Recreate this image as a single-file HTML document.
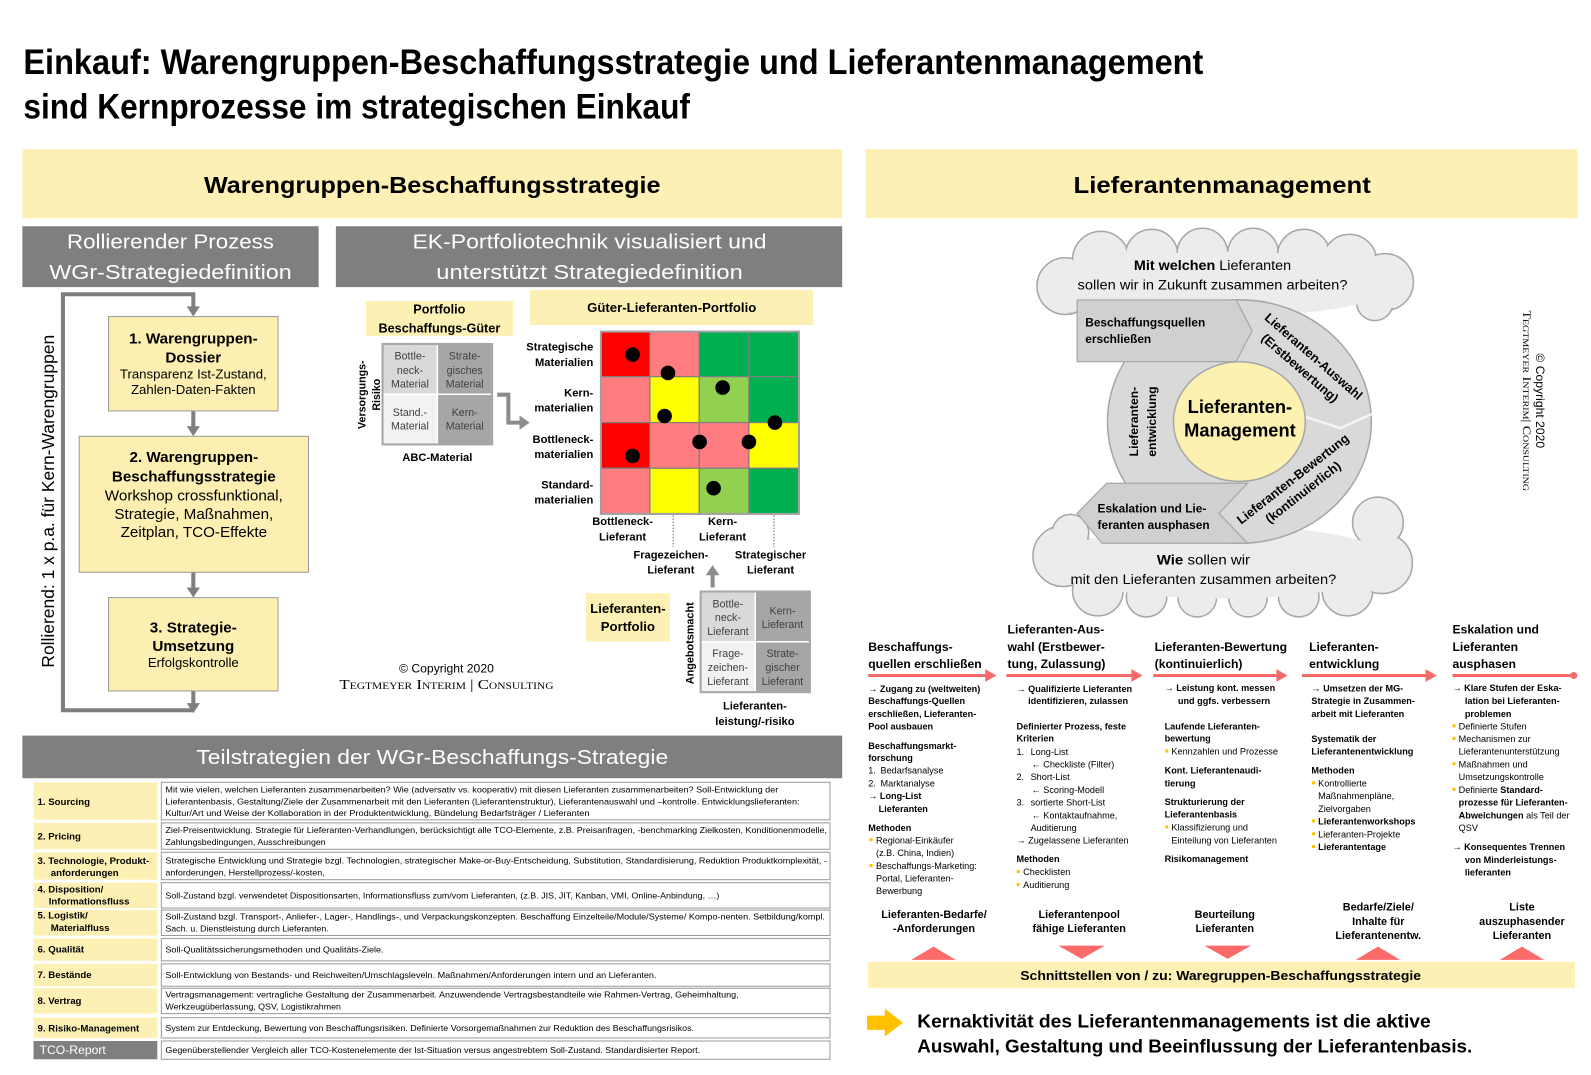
<!DOCTYPE html>
<html><head><meta charset="utf-8">
<style>
html,body{margin:0;padding:0;background:#fff;}
svg{display:block}
text{font-family:"Liberation Sans",Arial,sans-serif;fill:#000}
.b{font-weight:bold}
.w{fill:#fff}
.c{text-anchor:middle}
.e{text-anchor:end}
.t{font-size:8.5px}
.l{font-size:9.5px;font-weight:bold}
.r{font-size:9px}
.rb{font-size:9px;font-weight:bold}
.g{fill:#404040}
.h{font-size:12px;font-weight:bold}
.f{font-size:10.7px;font-weight:bold;text-anchor:middle}
</style></head><body>
<svg width="1591" height="1075" viewBox="0 0 1568 1059.5" xmlns="http://www.w3.org/2000/svg">
<rect x="0" y="0" width="1568" height="1059.5" fill="#fff"/>

<!-- Title -->
<text x="23" y="73" class="b" font-size="35" textLength="1163" lengthAdjust="spacingAndGlyphs">Einkauf: Warengruppen-Beschaffungsstrategie und Lieferantenmanagement</text>
<text x="23" y="117" class="b" font-size="35" textLength="657" lengthAdjust="spacingAndGlyphs">sind Kernprozesse im strategischen Einkauf</text>

<!-- Yellow bands -->
<rect x="22" y="147" width="808" height="68" fill="#fdf0b4"/>
<rect x="853" y="147" width="702" height="68" fill="#fdf0b4"/>
<text x="426" y="190" class="b c" font-size="23" textLength="450" lengthAdjust="spacingAndGlyphs">Warengruppen-Beschaffungsstrategie</text>
<text x="1204.5" y="190" class="b c" font-size="23" textLength="293" lengthAdjust="spacingAndGlyphs">Lieferantenmanagement</text>

<!-- Gray headers -->
<rect x="22" y="223" width="292" height="60" fill="#7f7f7f"/>
<text x="168" y="245" class="w c" font-size="20" textLength="204" lengthAdjust="spacingAndGlyphs">Rollierender Prozess</text>
<text x="168" y="275" class="w c" font-size="20" textLength="239" lengthAdjust="spacingAndGlyphs">WGr-Strategiedefinition</text>
<rect x="331" y="223" width="499" height="60" fill="#7f7f7f"/>
<text x="581" y="245" class="w c" font-size="20" textLength="349" lengthAdjust="spacingAndGlyphs">EK-Portfoliotechnik visualisiert und</text>
<text x="581" y="275" class="w c" font-size="20" textLength="302" lengthAdjust="spacingAndGlyphs">unterstützt Strategiedefinition</text>

<!-- Loop -->
<path d="M190.5 304 V290 H62 V700 H190.5" stroke="#7f7f7f" stroke-width="4" fill="none"/>
<polygon points="190.5,312 184,302 197,302" fill="#7f7f7f"/>
<line x1="190.5" y1="405" x2="190.5" y2="421" stroke="#7f7f7f" stroke-width="4"/>
<polygon points="190.5,430 184,420 197,420" fill="#7f7f7f"/>
<line x1="190.5" y1="564" x2="190.5" y2="580" stroke="#7f7f7f" stroke-width="4"/>
<polygon points="190.5,589 184,579 197,579" fill="#7f7f7f"/>
<line x1="190.5" y1="681" x2="190.5" y2="694" stroke="#7f7f7f" stroke-width="4"/>
<polygon points="190.5,703 184,693 197,693" fill="#7f7f7f"/>
<text transform="translate(53,494) rotate(-90)" class="c" font-size="17" textLength="328" lengthAdjust="spacingAndGlyphs">Rollierend:  1 x p.a. für Kern-Warengruppen</text>

<!-- Boxes -->
<rect x="107" y="312" width="167" height="93" fill="#fdefb2" stroke="#9a9a9a"/>
<text x="190.5" y="338.5" class="b c" font-size="15">1. Warengruppen-</text>
<text x="190.5" y="357.5" class="b c" font-size="15">Dossier</text>
<text x="190.5" y="373" class="c" font-size="13">Transparenz Ist-Zustand,</text>
<text x="190.5" y="388.5" class="c" font-size="13">Zahlen-Daten-Fakten</text>

<rect x="78" y="430" width="226" height="134" fill="#fdefb2" stroke="#9a9a9a"/>
<text x="191" y="455.5" class="b c" font-size="15">2. Warengruppen-</text>
<text x="191" y="474.5" class="b c" font-size="15">Beschaffungsstrategie</text>
<text x="191" y="493.5" class="c" font-size="15">Workshop crossfunktional,</text>
<text x="191" y="511.5" class="c" font-size="15">Strategie, Maßnahmen,</text>
<text x="191" y="529.5" class="c" font-size="15">Zeitplan, TCO-Effekte</text>

<rect x="107" y="589" width="167" height="92" fill="#fdefb2" stroke="#9a9a9a"/>
<text x="190.5" y="623.5" class="b c" font-size="15">3. Strategie-</text>
<text x="190.5" y="641.5" class="b c" font-size="15">Umsetzung</text>
<text x="190.5" y="657.5" class="c" font-size="13">Erfolgskontrolle</text>

<!-- Portfolio Beschaffungs-Güter -->
<rect x="360.7" y="296.6" width="144.8" height="34.4" fill="#fdf0b4"/>
<text x="433" y="309" class="b c" font-size="12.5">Portfolio</text>
<text x="433" y="327.5" class="b c" font-size="12.5">Beschaffungs-Güter</text>

<rect x="377" y="339" width="54" height="49.6" fill="#d9d9d9" stroke="#fff" stroke-width="1.5"/>
<rect x="431" y="339" width="54" height="49.6" fill="#a6a6a6" stroke="#fff" stroke-width="1.5"/>
<rect x="377" y="388.6" width="54" height="49.4" fill="#f2f2f2" stroke="#fff" stroke-width="1.5"/>
<rect x="431" y="388.6" width="54" height="49.4" fill="#a6a6a6" stroke="#fff" stroke-width="1.5"/>
<rect x="377" y="339" width="108" height="99" fill="none" stroke="#a6a6a6" stroke-width="2"/>
<text x="404" y="354.5" class="c g" font-size="10.5">Bottle-</text>
<text x="404" y="368.5" class="c g" font-size="10.5">neck-</text>
<text x="404" y="382" class="c g" font-size="10.5">Material</text>
<text x="458" y="354.5" class="c g" font-size="10.5">Strate-</text>
<text x="458" y="368.5" class="c g" font-size="10.5">gisches</text>
<text x="458" y="382" class="c g" font-size="10.5">Material</text>
<text x="404" y="410" class="c g" font-size="10.5">Stand.-</text>
<text x="404" y="423.5" class="c g" font-size="10.5">Material</text>
<text x="458" y="410" class="c g" font-size="10.5">Kern-</text>
<text x="458" y="423.5" class="c g" font-size="10.5">Material</text>
<text transform="translate(360.4,389) rotate(-90)" class="b c" font-size="10.5">Versorgungs-</text>
<text transform="translate(374.5,389) rotate(-90)" class="b c" font-size="10.5">Risiko</text>
<text x="431" y="454.5" class="b c" font-size="11">ABC-Material</text>

<path d="M490 389 H501 V416.5 H513" stroke="#8c8c8c" stroke-width="4" fill="none"/>
<polygon points="522,416.5 512,409.5 512,423.5" fill="#8c8c8c"/>

<!-- Güter-Lieferanten-Portfolio -->
<rect x="522.3" y="285.8" width="279.2" height="34.5" fill="#fdf0b4"/>
<text x="662" y="307.5" class="b c" font-size="13">Güter-Lieferanten-Portfolio</text>

<g stroke="#7f7f7f" stroke-width="1.2">
<rect x="592.2" y="326.8" width="48.3" height="44.4" fill="#ff0000"/>
<rect x="640.5" y="326.8" width="48.6" height="44.4" fill="#ff7c80"/>
<rect x="689.1" y="326.8" width="49" height="44.4" fill="#00b050"/>
<rect x="738.1" y="326.8" width="49.3" height="44.4" fill="#00b050"/>
<rect x="592.2" y="371.2" width="48.3" height="45.3" fill="#ff7c80"/>
<rect x="640.5" y="371.2" width="48.6" height="45.3" fill="#ffff00"/>
<rect x="689.1" y="371.2" width="49" height="45.3" fill="#92d050"/>
<rect x="738.1" y="371.2" width="49.3" height="45.3" fill="#00b050"/>
<rect x="592.2" y="416.5" width="48.3" height="45" fill="#ff0000"/>
<rect x="640.5" y="416.5" width="48.6" height="45" fill="#ff7c80"/>
<rect x="689.1" y="416.5" width="49" height="45" fill="#ff7c80"/>
<rect x="738.1" y="416.5" width="49.3" height="45" fill="#ffff00"/>
<rect x="592.2" y="461.5" width="48.3" height="45" fill="#ff7c80"/>
<rect x="640.5" y="461.5" width="48.6" height="45" fill="#ffff00"/>
<rect x="689.1" y="461.5" width="49" height="45" fill="#92d050"/>
<rect x="738.1" y="461.5" width="49.3" height="45" fill="#00b050"/>
</g>
<rect x="592.2" y="326.8" width="195.2" height="179.7" fill="none" stroke="#a0a0a0" stroke-width="2"/>
<g fill="#000">
<circle cx="623.4" cy="349.5" r="7.2"/>
<circle cx="658.3" cy="367.6" r="7.2"/>
<circle cx="712.2" cy="382" r="7.2"/>
<circle cx="655" cy="410" r="7.2"/>
<circle cx="763.7" cy="416.5" r="7.2"/>
<circle cx="689.5" cy="435.6" r="7.2"/>
<circle cx="738.1" cy="435.6" r="7.2"/>
<circle cx="623.4" cy="449.4" r="7.2"/>
<circle cx="703.3" cy="481.2" r="7.2"/>
</g>
<text x="584.7" y="345.6" class="b e" font-size="11">Strategische</text>
<text x="584.7" y="360.7" class="b e" font-size="11">Materialien</text>
<text x="584.7" y="390.6" class="b e" font-size="11">Kern-</text>
<text x="584.7" y="405.7" class="b e" font-size="11">materialien</text>
<text x="584.7" y="436.6" class="b e" font-size="11">Bottleneck-</text>
<text x="584.7" y="451.4" class="b e" font-size="11">materialien</text>
<text x="584.7" y="481.3" class="b e" font-size="11">Standard-</text>
<text x="584.7" y="496.4" class="b e" font-size="11">materialien</text>
<text x="613.6" y="517.4" class="b c" font-size="11">Bottleneck-</text>
<text x="613.6" y="532.8" class="b c" font-size="11">Lieferant</text>
<text x="712.1" y="517.4" class="b c" font-size="11">Kern-</text>
<text x="712.1" y="532.8" class="b c" font-size="11">Lieferant</text>
<text x="661.2" y="550.3" class="b c" font-size="11">Fragezeichen-</text>
<text x="661.2" y="565.4" class="b c" font-size="11">Lieferant</text>
<text x="759.4" y="550.3" class="b c" font-size="11">Strategischer</text>
<text x="759.4" y="565.4" class="b c" font-size="11">Lieferant</text>
<line x1="663.5" y1="508" x2="663.5" y2="539" stroke="#9a9a9a" stroke-width="1.5" stroke-dasharray="1.5,1.5"/>
<line x1="762.7" y1="508" x2="762.7" y2="539" stroke="#9a9a9a" stroke-width="1.5" stroke-dasharray="1.5,1.5"/>

<line x1="702.3" y1="579" x2="702.3" y2="566" stroke="#8c8c8c" stroke-width="4"/>
<polygon points="702.3,557 695.5,567 709,567" fill="#8c8c8c"/>

<rect x="577.5" y="584.7" width="82.7" height="47.6" fill="#fdf0b4"/>
<text x="618.8" y="604" class="b c" font-size="13">Lieferanten-</text>
<text x="618.8" y="622" class="b c" font-size="13">Portfolio</text>

<rect x="690.5" y="583" width="53.8" height="49.5" fill="#d9d9d9" stroke="#fff" stroke-width="1.5"/>
<rect x="744.3" y="583" width="53.9" height="49.5" fill="#a6a6a6" stroke="#fff" stroke-width="1.5"/>
<rect x="690.5" y="632.5" width="53.8" height="49.7" fill="#f2f2f2" stroke="#fff" stroke-width="1.5"/>
<rect x="744.3" y="632.5" width="53.9" height="49.7" fill="#a6a6a6" stroke="#fff" stroke-width="1.5"/>
<rect x="690.5" y="583" width="107.7" height="99.2" fill="none" stroke="#a6a6a6" stroke-width="2"/>
<text x="717.4" y="598.7" class="c g" font-size="10.5">Bottle-</text>
<text x="717.4" y="611.8" class="c g" font-size="10.5">neck-</text>
<text x="717.4" y="625.6" class="c g" font-size="10.5">Lieferant</text>
<text x="771.2" y="605.6" class="c g" font-size="10.5">Kern-</text>
<text x="771.2" y="618.7" class="c g" font-size="10.5">Lieferant</text>
<text x="717.4" y="647.3" class="c g" font-size="10.5">Frage-</text>
<text x="717.4" y="661.1" class="c g" font-size="10.5">zeichen-</text>
<text x="717.4" y="674.9" class="c g" font-size="10.5">Lieferant</text>
<text x="771.2" y="647.3" class="c g" font-size="10.5">Strate-</text>
<text x="771.2" y="661.1" class="c g" font-size="10.5">gischer</text>
<text x="771.2" y="674.9" class="c g" font-size="10.5">Lieferant</text>
<text transform="translate(683.3,634) rotate(-90)" class="b c" font-size="10.7">Angebotsmacht</text>
<text x="744" y="699.5" class="b c" font-size="11">Lieferanten-</text>
<text x="744" y="714.5" class="b c" font-size="11">leistung/-risiko</text>

<text x="440" y="663" class="c" font-size="12">© Copyright 2020</text>
<text x="440" y="679" class="c" font-size="13" style="font-family:'Liberation Serif',serif;font-variant:small-caps" textLength="211" lengthAdjust="spacingAndGlyphs">Tegtmeyer Interim | Consulting</text>

<!-- Teilstrategien -->
<rect x="22" y="725" width="808" height="42" fill="#7f7f7f"/>
<text x="426" y="753" class="w c" font-size="20" textLength="465" lengthAdjust="spacingAndGlyphs">Teilstrategien der WGr-Beschaffungs-Strategie</text>

<g fill="#fdf0b4">
<rect x="33" y="771" width="122" height="37"/>
<rect x="33" y="811" width="122" height="26"/>
<rect x="33" y="840" width="122" height="27"/>
<rect x="33" y="870" width="122" height="25"/>
<rect x="33" y="897" width="122" height="25"/>
<rect x="33" y="925" width="122" height="22"/>
<rect x="33" y="950" width="122" height="22"/>
<rect x="33" y="974" width="122" height="25"/>
<rect x="33" y="1003" width="122" height="20"/>
</g>
<rect x="33" y="1026" width="122" height="18" fill="#7f7f7f"/>
<g fill="#fff" stroke="#9a9a9a" stroke-width="1">
<rect x="159" y="771" width="659" height="37"/>
<rect x="159" y="811" width="659" height="26"/>
<rect x="159" y="840" width="659" height="27"/>
<rect x="159" y="870" width="659" height="25"/>
<rect x="159" y="897" width="659" height="25"/>
<rect x="159" y="925" width="659" height="22"/>
<rect x="159" y="950" width="659" height="22"/>
<rect x="159" y="974" width="659" height="25"/>
<rect x="159" y="1003" width="659" height="20"/>
<rect x="159" y="1026" width="659" height="18"/>
</g>
<text x="37" y="793.5" class="l">1. Sourcing</text>
<text x="37" y="827.5" class="l">2. Pricing</text>
<text x="37" y="851.5" class="l">3. Technologie, Produkt-</text>
<text x="50" y="863.5" class="l">anforderungen</text>
<text x="37" y="879.5" class="l">4. Disposition/</text>
<text x="48" y="891.5" class="l">Informationsfluss</text>
<text x="37" y="905.5" class="l">5. Logistik/</text>
<text x="50" y="917.5" class="l">Materialfluss</text>
<text x="37" y="939" class="l">6. Qualität</text>
<text x="37" y="964" class="l">7. Bestände</text>
<text x="37" y="989.5" class="l">8. Vertrag</text>
<text x="37" y="1016.5" class="l">9. Risiko-Management</text>
<text x="39" y="1039" class="w" font-size="12">TCO-Report</text>

<text x="163" y="781" class="t" textLength="604" lengthAdjust="spacingAndGlyphs">Mit wie vielen, welchen Lieferanten zusammenarbeiten?  Wie (adversativ vs. kooperativ) mit diesen Lieferanten zusammenarbeiten? Soll-Entwicklung der</text>
<text x="163" y="793" class="t" textLength="625" lengthAdjust="spacingAndGlyphs">Lieferantenbasis, Gestaltung/Ziele der Zusammenarbeit mit den Lieferanten (Lieferantenstruktur), Lieferantenauswahl und –kontrolle. Entwicklungslieferanten:</text>
<text x="163" y="804" class="t" textLength="418" lengthAdjust="spacingAndGlyphs">Kultur/Art und Weise der Kollaboration in der Produktentwicklung. Bündelung Bedarfsträger / Lieferanten</text>
<text x="163" y="821" class="t" textLength="652" lengthAdjust="spacingAndGlyphs">Ziel-Preisentwicklung. Strategie für Lieferanten-Verhandlungen, berücksichtigt alle TCO-Elemente, z.B. Preisanfragen, -benchmarking Zielkosten, Konditionenmodelle,</text>
<text x="163" y="833" class="t" textLength="158" lengthAdjust="spacingAndGlyphs">Zahlungsbedingungen, Ausschreibungen</text>
<text x="163" y="851" class="t" textLength="652" lengthAdjust="spacingAndGlyphs">Strategische Entwicklung und Strategie bzgl. Technologien, strategischer Make-or-Buy-Entscheidung, Substitution, Standardisierung, Reduktion Produktkomplexität, -</text>
<text x="163" y="863" class="t" textLength="157" lengthAdjust="spacingAndGlyphs">anforderungen, Herstellprozess/-kosten,</text>
<text x="163" y="885.5" class="t" textLength="546" lengthAdjust="spacingAndGlyphs">Soll-Zustand bzgl. verwendetet Dispositionsarten, Informationsfluss zum/vom Lieferanten, (z.B. JIS, JIT, Kanban, VMI, Online-Anbindung,  …)</text>
<text x="163" y="906" class="t" textLength="650" lengthAdjust="spacingAndGlyphs">Soll-Zustand bzgl. Transport-, Anliefer-, Lager-, Handlings-, und Verpackungskonzepten. Beschaffung Einzelteile/Module/Systeme/ Kompo-nenten. Setbildung/kompl.</text>
<text x="163" y="918" class="t" textLength="161" lengthAdjust="spacingAndGlyphs">Sach. u. Dienstleistung durch Lieferanten.</text>
<text x="163" y="939" class="t" textLength="215" lengthAdjust="spacingAndGlyphs">Soll-Qualitätssicherungsmethoden  und Qualitäts-Ziele.</text>
<text x="163" y="964" class="t" textLength="484" lengthAdjust="spacingAndGlyphs">Soll-Entwicklung von Bestands- und Reichweiten/Umschlagsleveln. Maßnahmen/Anforderungen  intern und an Lieferanten.</text>
<text x="163" y="983" class="t" textLength="565" lengthAdjust="spacingAndGlyphs">Vertragsmanagement:  vertragliche Gestaltung der Zusammenarbeit. Anzuwendende Vertragsbestandteile wie Rahmen-Vertrag, Geheimhaltung,</text>
<text x="163" y="995" class="t" textLength="173" lengthAdjust="spacingAndGlyphs">Werkzeugüberlassung,  QSV, Logistikrahmen</text>
<text x="163" y="1016" class="t" textLength="521" lengthAdjust="spacingAndGlyphs">System zur Entdeckung, Bewertung von Beschaffungsrisiken.  Definierte Vorsorgemaßnahmen  zur Reduktion des Beschaffungsrisikos.</text>
<text x="163" y="1038" class="t" textLength="527" lengthAdjust="spacingAndGlyphs">Gegenüberstellender  Vergleich aller TCO-Kostenelemente  der Ist-Situation versus angestrebtem Soll-Zustand. Standardisierter Report.</text>

<!-- Right: clouds -->
<g fill="#ececec" stroke="#a6a6a6" stroke-width="1.5">
<circle cx="1050" cy="282" r="28"/><circle cx="1085" cy="256" r="28"/><circle cx="1135" cy="252" r="26"/>
<circle cx="1185" cy="250" r="25"/><circle cx="1235" cy="250" r="25"/><circle cx="1285" cy="252" r="26"/>
<circle cx="1330" cy="258" r="27"/><circle cx="1365" cy="278" r="28"/><circle cx="1355" cy="298" r="18"/>
<circle cx="1052" cy="292" r="16"/>
<circle cx="1048" cy="548" r="30"/><circle cx="1055" cy="525" r="18"/><circle cx="1082" cy="582" r="25"/>
<circle cx="1130" cy="588" r="20"/><circle cx="1180" cy="589" r="19"/><circle cx="1230" cy="589" r="19"/>
<circle cx="1280" cy="588" r="20"/><circle cx="1328" cy="582" r="25"/><circle cx="1362" cy="555" r="30"/>
<circle cx="1358" cy="515" r="25"/>
</g>
<g fill="#ececec">
<circle cx="1050" cy="282" r="26.5"/><circle cx="1085" cy="256" r="26.5"/><circle cx="1135" cy="252" r="24.5"/>
<circle cx="1185" cy="250" r="23.5"/><circle cx="1235" cy="250" r="23.5"/><circle cx="1285" cy="252" r="24.5"/>
<circle cx="1330" cy="258" r="25.5"/><circle cx="1365" cy="278" r="26.5"/><circle cx="1355" cy="298" r="16.5"/>
<circle cx="1052" cy="292" r="14.5"/>
<ellipse cx="1205" cy="280" rx="170" ry="32"/>
<circle cx="1048" cy="548" r="28.5"/><circle cx="1055" cy="525" r="16.5"/><circle cx="1082" cy="582" r="23.5"/>
<circle cx="1130" cy="588" r="18.5"/><circle cx="1180" cy="589" r="17.5"/><circle cx="1230" cy="589" r="17.5"/>
<circle cx="1280" cy="588" r="18.5"/><circle cx="1328" cy="582" r="23.5"/><circle cx="1362" cy="555" r="28.5"/>
<circle cx="1358" cy="515" r="23.5"/>
<ellipse cx="1205" cy="554" rx="168" ry="36"/>
</g>
<text x="1195" y="266.3" class="c" font-size="13.5" textLength="155" lengthAdjust="spacingAndGlyphs"><tspan class="b">Mit welchen</tspan> Lieferanten</text>
<text x="1195" y="285.4" class="c" font-size="13.5" textLength="266" lengthAdjust="spacingAndGlyphs">sollen wir in Zukunft zusammen arbeiten?</text>
<text x="1186" y="556.4" class="c" font-size="13.5" textLength="92" lengthAdjust="spacingAndGlyphs"><tspan class="b">Wie</tspan> sollen wir</text>
<text x="1186" y="575.4" class="c" font-size="13.5" textLength="262" lengthAdjust="spacingAndGlyphs">mit den Lieferanten zusammen arbeiten?</text>

<!-- Ring -->
<ellipse cx="1221.5" cy="415.5" rx="130" ry="120" fill="#d9d9d9" stroke="#a6a6a6" stroke-width="1.5"/>
<polyline points="1284,410 1321,422 1352,408" fill="none" stroke="#f4f4f4" stroke-width="2.5"/>
<polygon points="1061.6,295.6 1218.3,295.6 1234,325.9 1218.3,356.4 1061.6,356.4" fill="#d0d0d0" stroke="#a6a6a6" stroke-width="1.2"/>
<polygon points="1061.6,505.9 1090.7,476.3 1229.5,476.3 1201.3,505.9 1229.5,535.4 1086.2,535.4" fill="#d0d0d0" stroke="#a6a6a6" stroke-width="1.2"/>
<ellipse cx="1221.5" cy="415.5" rx="65" ry="59" fill="#fdf1b2" stroke="#a6a6a6" stroke-width="1.5"/>
<text x="1222" y="407" class="b c" font-size="18">Lieferanten-</text>
<text x="1222" y="430" class="b c" font-size="18">Management</text>
<text x="1069.6" y="322" class="b" font-size="11.7">Beschaffungsquellen</text>
<text x="1069.6" y="338" class="b" font-size="11.7">erschließen</text>
<text x="1081.7" y="505" class="b" font-size="11.7">Eskalation und Lie-</text>
<text x="1081.7" y="521.6" class="b" font-size="11.7">feranten ausphasen</text>
<text transform="translate(1121.6,415.5) rotate(-90)" class="b c" font-size="12">Lieferanten-</text>
<text transform="translate(1139.5,415.5) rotate(-90)" class="b c" font-size="12">entwicklung</text>
<text transform="translate(1294.5,351.5) rotate(41)" x="0" y="4" class="b c" font-size="12.5">Lieferanten-Auswahl</text>
<text transform="translate(1281,362.9) rotate(41)" x="0" y="4" class="b c" font-size="12.5">(Erstbewertung)</text>
<text transform="translate(1274.3,472.2) rotate(-38)" x="0" y="4" class="b c" font-size="12.5">Lieferanten-Bewertung</text>
<text transform="translate(1284.4,485.3) rotate(-38)" x="0" y="4" class="b c" font-size="12.5">(kontinuierlich)</text>

<!-- vertical copyright -->
<text transform="translate(1514,395) rotate(90)" class="c" font-size="12">© Copyright 2020</text>
<text transform="translate(1501,395) rotate(90)" class="c" font-size="11" style="font-family:'Liberation Serif',serif;font-variant:small-caps" textLength="178" lengthAdjust="spacingAndGlyphs">Tegtmeyer Interim| Consulting</text>

<!-- Column headers -->
<text x="855.7" y="641.8" class="h">Beschaffungs-</text>
<text x="855.7" y="658.3" class="h">quellen erschließen</text>
<text x="993" y="624.6" class="h">Lieferanten-Aus-</text>
<text x="993" y="641.8" class="h">wahl (Erstbewer-</text>
<text x="993" y="658.3" class="h">tung, Zulassung)</text>
<text x="1138" y="641.8" class="h">Lieferanten-Bewertung</text>
<text x="1138" y="658.3" class="h">(kontinuierlich)</text>
<text x="1290.2" y="641.8" class="h">Lieferanten-</text>
<text x="1290.2" y="658.3" class="h">entwicklung</text>
<text x="1431.5" y="624.6" class="h">Eskalation und</text>
<text x="1431.5" y="641.8" class="h">Lieferanten</text>
<text x="1431.5" y="658.3" class="h">ausphasen</text>

<g stroke="#f66a6a" stroke-width="3">
<line x1="855.7" y1="665.8" x2="973" y2="665.8"/>
<line x1="991.8" y1="665.8" x2="1117" y2="665.8"/>
<line x1="1136.6" y1="665.8" x2="1260" y2="665.8"/>
<line x1="1283.2" y1="665.8" x2="1407" y2="665.8"/>
<line x1="1431.5" y1="665.8" x2="1549" y2="665.8"/>
</g>
<g fill="#f66a6a">
<polygon points="982,665.8 971,659.5 971,672.1"/>
<polygon points="1126,665.8 1115,659.5 1115,672.1"/>
<polygon points="1269,665.8 1258,659.5 1258,672.1"/>
<polygon points="1416,665.8 1405,659.5 1405,672.1"/>
<circle cx="1551" cy="665.8" r="3.5"/>
</g>

<!-- Column 1 body -->
<text x="855.7" y="681.8" class="rb">→ Zugang zu (weltweiten)</text>
<text x="855.7" y="693.9" class="rb">Beschaffungs-Quellen</text>
<text x="855.7" y="706.5" class="rb">erschließen, Lieferanten-</text>
<text x="855.7" y="718.9" class="rb">Pool ausbauen</text>
<text x="855.7" y="738" class="rb">Beschaffungsmarkt-</text>
<text x="855.7" y="749.8" class="rb">forschung</text>
<text x="855.7" y="762.3" class="r">1.</text><text x="867.8" y="762.3" class="r">Bedarfsanalyse</text>
<text x="855.7" y="775.1" class="r">2.</text><text x="867.8" y="775.1" class="r">Marktanalyse</text>
<text x="855.7" y="787.6" class="rb">→ Long-List</text>
<text x="866" y="800.1" class="rb">Lieferanten</text>
<text x="855.7" y="818.8" class="rb">Methoden</text>
<text x="863.4" y="831.2" class="r">Regional-Einkäufer</text>
<text x="863.4" y="843.5" class="r">(z.B. China,  Indien)</text>
<text x="863.4" y="856.6" class="r">Beschaffungs-Marketing:</text>
<text x="863.4" y="868.7" class="r">Portal, Lieferanten-</text>
<text x="863.4" y="881.2" class="r">Bewerbung</text>

<!-- Column 2 body -->
<text x="1001.8" y="681.8" class="rb">→ Qualifizierte Lieferanten</text>
<text x="1013.3" y="693.9" class="rb">identifizieren, zulassen</text>
<text x="1001.8" y="718.9" class="rb">Definierter Prozess, feste</text>
<text x="1001.8" y="731" class="rb">Kriterien</text>
<text x="1001.8" y="744.1" class="r">1.</text><text x="1015.7" y="744.1" class="r">Long-List</text>
<text x="1016.7" y="756.3" class="r">← Checkliste (Filter)</text>
<text x="1001.8" y="768.7" class="r">2.</text><text x="1015.7" y="768.7" class="r">Short-List</text>
<text x="1016.7" y="781.5" class="r">← Scoring-Modell</text>
<text x="1001.8" y="794" class="r">3.</text><text x="1015.7" y="794" class="r">sortierte Short-List</text>
<text x="1016.7" y="806.8" class="r">← Kontaktaufnahme,</text>
<text x="1015.7" y="818.9" class="r">Auditierung</text>
<text x="1001.8" y="831.4" class="r">→ Zugelassene Lieferanten</text>
<text x="1001.8" y="849.8" class="rb">Methoden</text>
<text x="1008.4" y="862.6" class="r">Checklisten</text>
<text x="1008.4" y="875.4" class="r">Auditierung</text>

<!-- Column 3 body -->
<text x="1147.8" y="680.8" class="rb">→ Leistung kont. messen</text>
<text x="1160.9" y="693.9" class="rb">und ggfs. verbessern</text>
<text x="1147.8" y="718.9" class="rb">Laufende Lieferanten-</text>
<text x="1147.8" y="731" class="rb">bewertung</text>
<text x="1154.5" y="743.8" class="r">Kennzahlen und Prozesse</text>
<text x="1147.8" y="762.2" class="rb">Kont. Lieferantenaudi-</text>
<text x="1147.8" y="775.1" class="rb">tierung</text>
<text x="1147.8" y="793.4" class="rb">Strukturierung der</text>
<text x="1147.8" y="805.8" class="rb">Lieferantenbasis</text>
<text x="1154.5" y="818.6" class="r">Klassifizierung und</text>
<text x="1154.5" y="831.2" class="r">Einteilung von Lieferanten</text>
<text x="1147.8" y="849.8" class="rb">Risikomanagement</text>

<!-- Column 4 body -->
<text x="1292.5" y="681.5" class="rb">→ Umsetzen der MG-</text>
<text x="1292.5" y="693.9" class="rb">Strategie in Zusammen-</text>
<text x="1292.5" y="706.5" class="rb">arbeit mit Lieferanten</text>
<text x="1292.5" y="731.4" class="rb">Systematik der</text>
<text x="1292.5" y="743.8" class="rb">Lieferantenentwicklung</text>
<text x="1292.5" y="762.2" class="rb">Methoden</text>
<text x="1299.1" y="775.1" class="r">Kontrollierte</text>
<text x="1299.1" y="787.6" class="r">Maßnahmenpläne,</text>
<text x="1299.1" y="800.1" class="r">Zielvorgaben</text>
<text x="1299.1" y="812.6" class="rb">Lieferantenworkshops</text>
<text x="1299.1" y="825.4" class="r">Lieferanten-Projekte</text>
<text x="1299.1" y="837.9" class="rb">Lieferantentage</text>

<!-- Column 5 body -->
<text x="1431.5" y="680.8" class="rb">→ Klare Stufen der Eska-</text>
<text x="1443.7" y="693.9" class="rb">lation bei Lieferanten-</text>
<text x="1443.7" y="706.5" class="rb">problemen</text>
<text x="1437.6" y="718.9" class="r">Definierte Stufen</text>
<text x="1437.6" y="731.4" class="r">Mechanismen zur</text>
<text x="1437.6" y="743.8" class="r">Lieferantenunterstützung</text>
<text x="1437.6" y="756.3" class="r">Maßnahmen und</text>
<text x="1437.6" y="768.7" class="r">Umsetzungskontrolle</text>
<text x="1437.6" y="781.5" class="r">Definierte <tspan class="b">Standard-</tspan></text>
<text x="1437.6" y="794" class="rb">prozesse für Lieferanten-</text>
<text x="1437.6" y="806.5" class="r"><tspan class="b">Abweichungen</tspan> als Teil der</text>
<text x="1437.6" y="818.9" class="r">QSV</text>
<text x="1431.5" y="837.9" class="rb">→ Konsequentes Trennen</text>
<text x="1443.7" y="850.4" class="rb">von Minderleistungs-</text>
<text x="1443.7" y="862.9" class="rb">lieferanten</text>

<!-- bullets -->
<g fill="#ffc000">
<rect x="857" y="826" width="3" height="3"/><rect x="857" y="851.5" width="3" height="3"/>
<rect x="1002" y="857.5" width="3" height="3"/><rect x="1002" y="870.3" width="3" height="3"/>
<rect x="1148.5" y="738.7" width="3" height="3"/><rect x="1148.5" y="813.5" width="3" height="3"/>
<rect x="1293" y="770" width="3" height="3"/><rect x="1293" y="807.5" width="3" height="3"/>
<rect x="1293" y="820.3" width="3" height="3"/><rect x="1293" y="832.8" width="3" height="3"/>
<rect x="1431.5" y="713.8" width="3" height="3"/><rect x="1431.5" y="726.3" width="3" height="3"/>
<rect x="1431.5" y="751.2" width="3" height="3"/><rect x="1431.5" y="776.4" width="3" height="3"/>
</g>

<!-- footers -->
<text x="920.5" y="904.7" class="f">Lieferanten-Bedarfe/</text>
<text x="920.5" y="918.8" class="f">-Anforderungen</text>
<text x="1063.6" y="904.7" class="f">Lieferantenpool</text>
<text x="1063.6" y="918.8" class="f">fähige Lieferanten</text>
<text x="1207.1" y="904.7" class="f">Beurteilung</text>
<text x="1207.1" y="918.8" class="f">Lieferanten</text>
<text x="1358.4" y="897.4" class="f">Bedarfe/Ziele/</text>
<text x="1358.4" y="911.5" class="f">Inhalte für</text>
<text x="1358.4" y="925.6" class="f">Lieferantenentw.</text>
<text x="1500" y="897.4" class="f">Liste</text>
<text x="1500" y="911.5" class="f">auszuphasender</text>
<text x="1500" y="925.6" class="f">Lieferanten</text>

<g fill="#fd6a6a">
<polygon points="898,946 942,946 920,933"/>
<polygon points="1043,932 1089,932 1066,945"/>
<polygon points="1187,932 1233,932 1210,945"/>
<polygon points="1336,946 1380,946 1358,933"/>
<polygon points="1478,946 1522,946 1500,933"/>
</g>

<rect x="855.5" y="948" width="696.5" height="26" fill="#fdf0b4"/>
<text x="1203" y="966" class="b c" font-size="12.5" textLength="395" lengthAdjust="spacingAndGlyphs">Schnittstellen von / zu: Waregruppen-Beschaffungsstrategie</text>

<polygon points="854.5,1001 872,1001 872,994 890,1008 872,1021.5 872,1015 854.5,1015" fill="#ffc000"/>
<text x="904" y="1012.5" class="b" font-size="18.5" textLength="506" lengthAdjust="spacingAndGlyphs">Kernaktivität des Lieferantenmanagements ist die aktive</text>
<text x="904" y="1037.5" class="b" font-size="18.5" textLength="547" lengthAdjust="spacingAndGlyphs">Auswahl, Gestaltung und Beeinflussung der Lieferantenbasis.</text>
</svg>
</body></html>
